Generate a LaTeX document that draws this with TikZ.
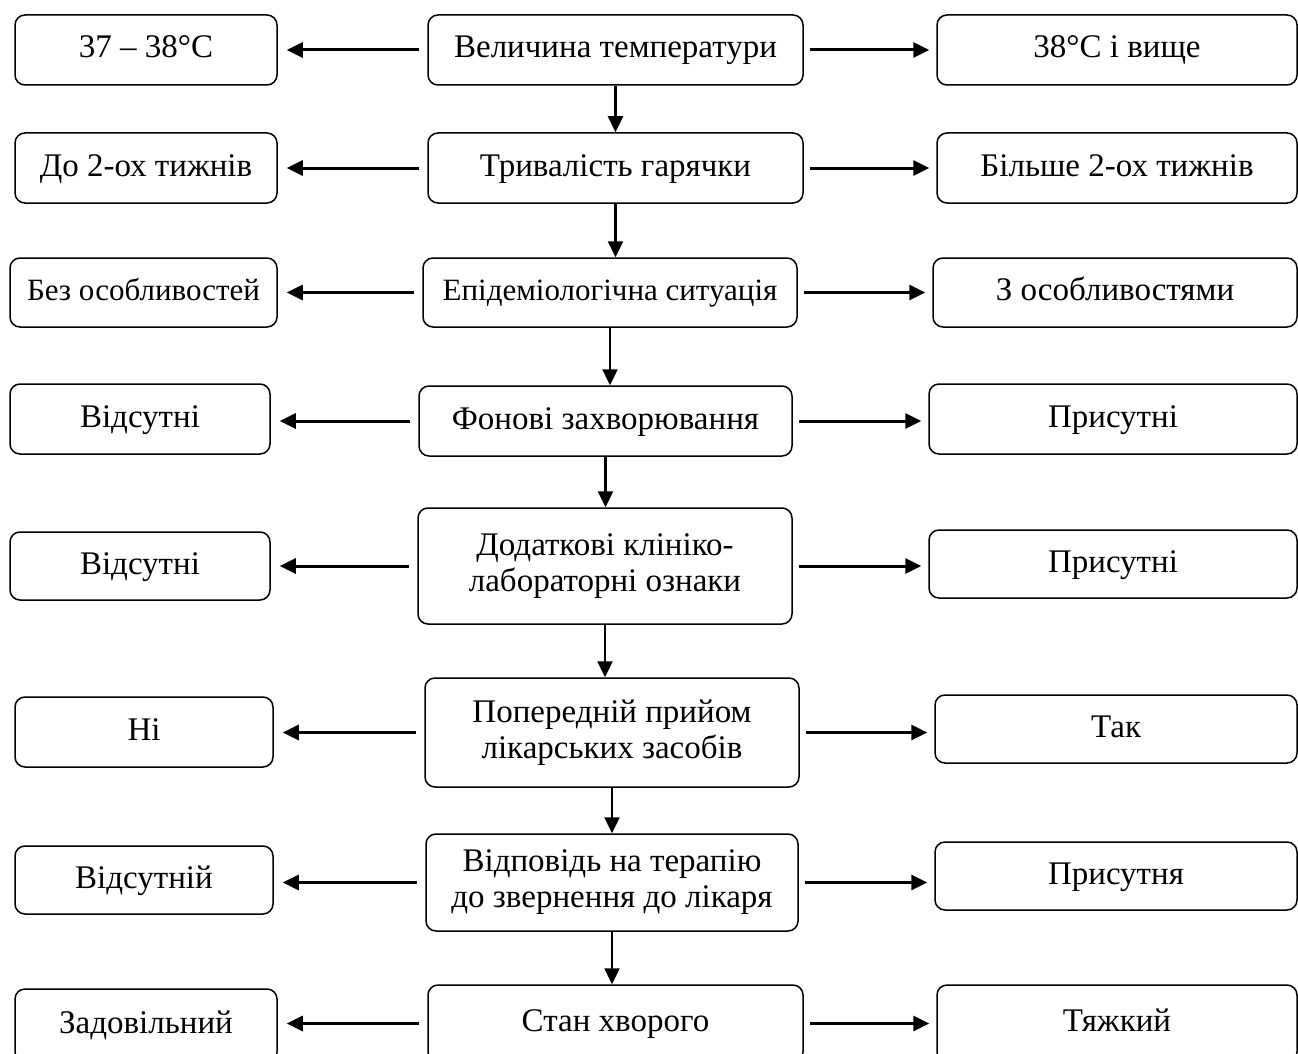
\documentclass[tikz,border=0pt]{standalone}
\usepackage{fontspec}
\setmainfont{Liberation Serif}
\usetikzlibrary{arrows.meta}

\tikzset{
	box/.style={draw, line width=1.5pt, rounded corners=10pt, align=center,
		font=\fontsize{33}{36}\selectfont, inner sep=2pt},
	oneline/.style={box, text height=23pt, text depth=7pt},
	smalltext/.style={font=\fontsize{31}{36}\selectfont},
	arr/.style={line width=3pt, -{Triangle[length=16pt,width=15pt]}},
	darr/.style={line width=2.4pt, -{Triangle[length=16pt,width=15pt]}}
}

\begin{document}
\begin{tikzpicture}[x=1pt,y=-1pt]
	\useasboundingbox (0,0) rectangle (1298,1054);
	
	% Draw nodes, middle column
	\node[oneline, minimum width=375pt, minimum height=70pt] (temp) at (615.5,50) {Величина температури};
	\node[oneline, minimum width=375pt, minimum height=70pt] (dur) at (615.5,168) {Тривалість гарячки};
	\node[oneline, smalltext, minimum width=374pt, minimum height=69pt] (epid) at (610,292.5) {Епідеміологічна ситуація};
	\node[oneline, minimum width=373pt, minimum height=70pt] (bg) at (605.5,421) {Фонові захворювання};
	\node[box, minimum width=374pt, minimum height=116pt] (lab) at (605,566) {Додаткові клініко-\\лабораторні ознаки};
	\node[box, minimum width=374pt, minimum height=109pt] (drug) at (612,732.5) {Попередній прийом\\лікарських засобів};
	\node[box, minimum width=372pt, minimum height=97pt] (resp) at (612,882.5) {Відповідь на терапію\\до звернення до лікаря};
	\node[oneline, minimum width=375pt, minimum height=77pt] (state) at (615.5,1023.5) {Стан хворого};
	
	% Draw nodes, left column
	\node[oneline, minimum width=262pt, minimum height=70pt] (tempL) at (146,50) {37 – 38°C};
	\node[oneline, minimum width=262pt, minimum height=70pt] (durL) at (146,168) {До 2-ох тижнів};
	\node[oneline, smalltext, minimum width=267pt, minimum height=69pt] (epidL) at (143.5,292.5) {Без особливостей};
	\node[oneline, minimum width=260pt, minimum height=70pt] (bgL) at (140,419) {Відсутні};
	\node[oneline, minimum width=260pt, minimum height=68pt] (labL) at (140,566) {Відсутні};
	\node[oneline, minimum width=258pt, minimum height=70pt] (drugL) at (144,732) {Ні};
	\node[oneline, minimum width=258pt, minimum height=68pt] (respL) at (144,880) {Відсутній};
	\node[oneline, minimum width=262pt, minimum height=73pt] (stateL) at (146,1025.5) {Задовільний};
	
	% Draw nodes, right column
	\node[oneline, minimum width=360pt, minimum height=70pt] (tempR) at (1117,50) {38°C і вище};
	\node[oneline, minimum width=360pt, minimum height=70pt] (durR) at (1117,168) {Більше 2-ох тижнів};
	\node[oneline, minimum width=364pt, minimum height=69pt] (epidR) at (1115,292.5) {З особливостями};
	\node[oneline, minimum width=368pt, minimum height=70pt] (bgR) at (1113,419) {Присутні};
	\node[oneline, minimum width=368pt, minimum height=68pt] (labR) at (1113,564) {Присутні};
	\node[oneline, minimum width=362pt, minimum height=68pt] (drugR) at (1116,729) {Так};
	\node[oneline, minimum width=362pt, minimum height=68pt] (respR) at (1116,876) {Присутня};
	\node[oneline, minimum width=360pt, minimum height=77pt] (stateR) at (1117,1023.5) {Тяжкий};
	
	% Draw arrows, sideways
	\foreach \n in {temp,dur,epid,bg,lab,drug,resp,state} {
		\draw[arr, shorten <=8pt, shorten >=9pt] (\n.west) -- (\n.west -| \n L.east);
		\draw[arr, shorten <=6pt, shorten >=7pt] (\n.east) -- (\n.east -| \n R.west);
	}
	
	% Draw arrows, downwards
	\draw[darr] (temp.south) -- (temp.south |- dur.north);
	\draw[darr] (dur.south) -- (dur.south |- epid.north);
	\draw[darr] (epid.south) -- (epid.south |- bg.north);
	\draw[darr] (bg.south) -- (bg.south |- lab.north);
	\draw[darr] (lab.south) -- (lab.south |- drug.north);
	\draw[darr] (drug.south) -- (drug.south |- resp.north);
	\draw[darr] (resp.south) -- (resp.south |- state.north);
	
\end{tikzpicture}
\end{document}
